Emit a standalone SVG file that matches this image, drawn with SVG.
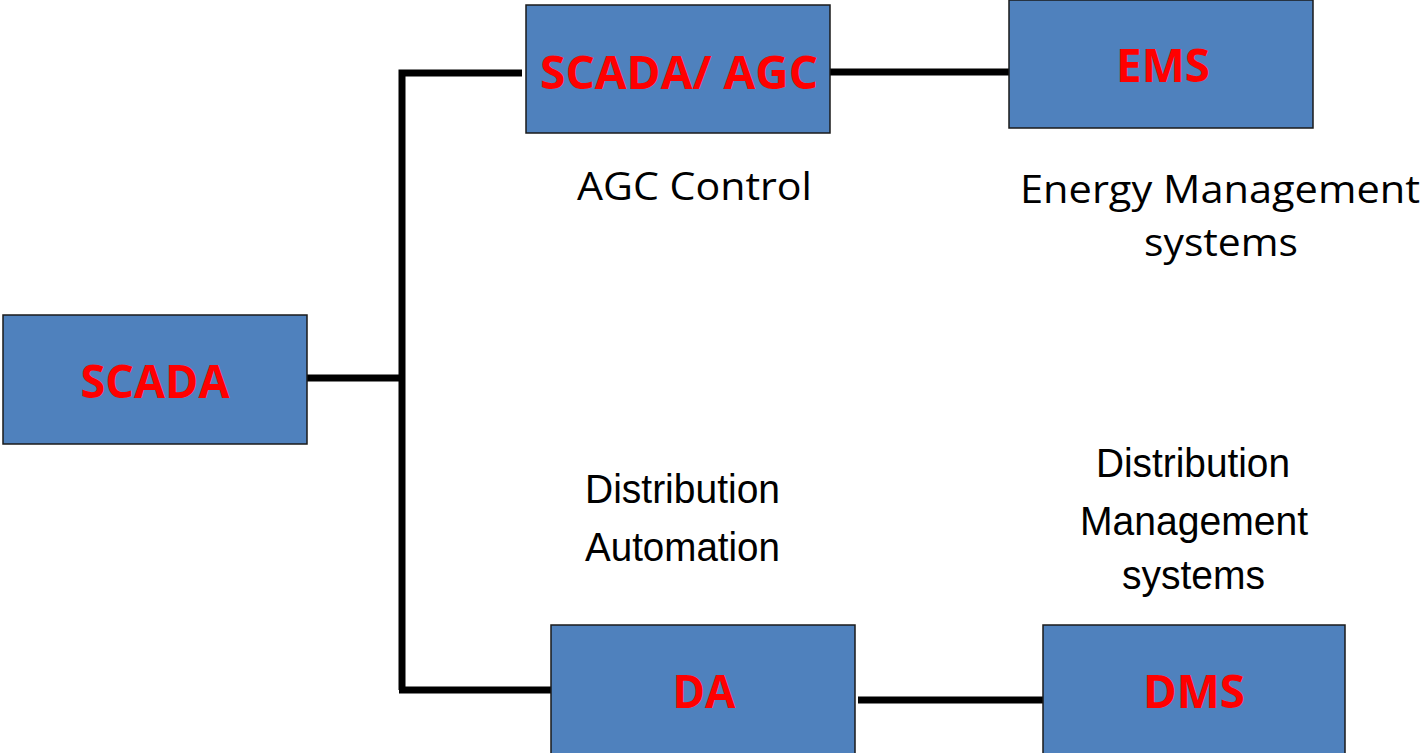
<svg xmlns="http://www.w3.org/2000/svg" width="1424" height="753" viewBox="0 0 1424 753">
<style>
.box{fill:#4F81BD;stroke:#1a1a1a;stroke-width:1.5}
.lbl{font-family:"Open Sans","Liberation Sans",sans-serif;font-weight:bold;fill:#FF0000;font-size:47px;text-anchor:middle}
.cap{font-family:"Open Sans","Liberation Sans",sans-serif;fill:#000;font-size:39px}
.ar{font-family:"Liberation Sans",Arial,sans-serif;fill:#000;font-size:41px}
.conn{fill:none;stroke:#000;stroke-width:7;stroke-linecap:butt}
</style>
<rect width="1424" height="753" fill="#fff"/>
<g id="connectors">
<path class="conn" d="M307 378 H402"/>
<path class="conn" d="M402 690 V73 H522"/>
<path class="conn" d="M399 690 H556"/>
<path class="conn" d="M830 72 H1014"/>
<path class="conn" d="M858 700 H1043"/>
</g>
<g id="scada">
<rect class="box" x="3" y="315" width="304" height="129"/>
<text class="lbl" x="155" y="398" textLength="149" lengthAdjust="spacingAndGlyphs">SCADA</text>
</g>
<g id="scada-agc">
<rect class="box" x="526" y="5" width="304" height="128"/>
<text class="lbl" x="679" y="89" textLength="278" lengthAdjust="spacingAndGlyphs">SCADA/ AGC</text>
<text class="cap" x="577" y="200" textLength="235" lengthAdjust="spacingAndGlyphs">AGC Control</text>
</g>
<g id="ems">
<rect class="box" x="1009" y="0" width="304" height="128"/>
<text class="lbl" x="1163" y="82" textLength="94" lengthAdjust="spacingAndGlyphs">EMS</text>
<text class="cap" x="1020" y="203" textLength="400" lengthAdjust="spacingAndGlyphs">Energy Management</text>
<text class="cap" x="1221" y="256" text-anchor="middle" textLength="154" lengthAdjust="spacingAndGlyphs">systems</text>
</g>
<g id="da">
<rect class="box" x="551" y="625" width="304" height="132"/>
<text class="lbl" x="704" y="708" textLength="63" lengthAdjust="spacingAndGlyphs">DA</text>
<text class="ar" x="585" y="503" textLength="195" lengthAdjust="spacingAndGlyphs">Distribution</text>
<text class="ar" x="585" y="561" textLength="195" lengthAdjust="spacingAndGlyphs">Automation</text>
</g>
<g id="dms">
<rect class="box" x="1043" y="625" width="302" height="132"/>
<text class="lbl" x="1194" y="708" textLength="102" lengthAdjust="spacingAndGlyphs">DMS</text>
<text class="ar" x="1096" y="477" textLength="194" lengthAdjust="spacingAndGlyphs">Distribution</text>
<text class="ar" x="1080" y="535" textLength="228" lengthAdjust="spacingAndGlyphs">Management</text>
<text class="ar" x="1122" y="589" textLength="143" lengthAdjust="spacingAndGlyphs">systems</text>
</g>
</svg>
